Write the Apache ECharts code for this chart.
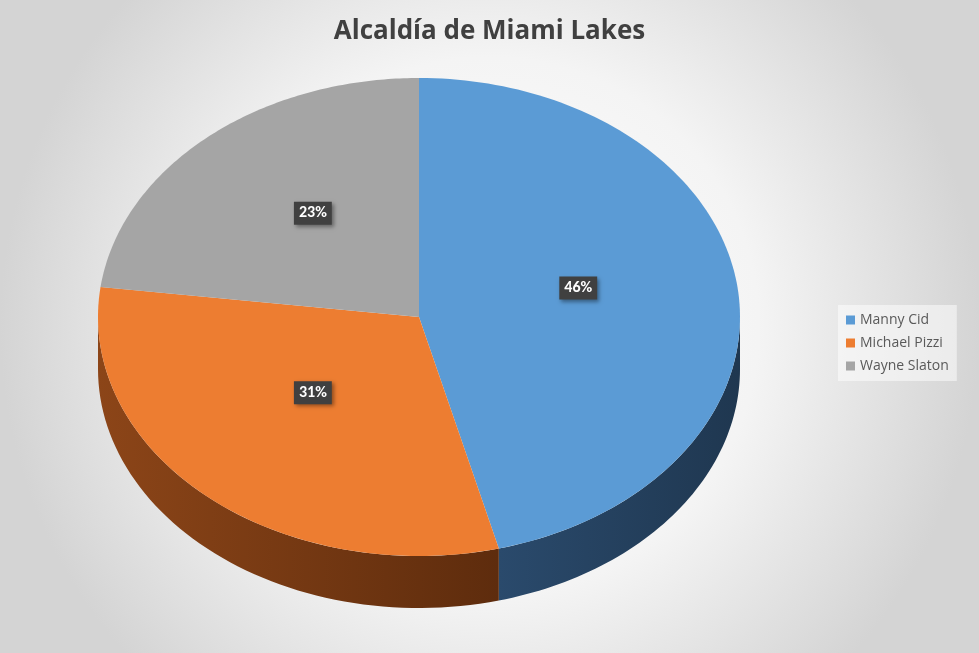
<!DOCTYPE html>
<html><head><meta charset="utf-8">
<script src="https://cdn.jsdelivr.net/npm/echarts@6/dist/echarts.min.js"></script>
<style>html,body{margin:0;padding:0}#c{width:979px;height:653px}</style>
</head><body><div id="c"></div>
<script>
const categories = ['Manny Cid', 'Michael Pizzi', 'Wayne Slaton'];
const values = [46, 31, 23];
const labels = ['46%', '31%', '23%'];
const topColors = ['#5b9bd5', '#ed7d31', '#a5a5a5'];
const sideColors = [['#2a4a6c', '#1f3750'], ['#8c4518', '#5e2c0d'], ['#6d6d6d', '#555555']];

const total = values.reduce((a, b) => a + b, 0);
const cum = [];
values.reduce((acc, v, i) => { cum[i] = acc; return acc + v; }, 0);

const CX = 419, CY = 317, RX = 321, RY = 239, DEPTH = 52;
function pt(th, dy) { return [CX + RX * Math.sin(th), CY - RY * Math.cos(th) + (dy || 0)]; }

function makeRender(i) {
  return function (params, api) {
    const a0 = cum[i] / total * 2 * Math.PI;
    const a1 = (cum[i] + values[i]) / total * 2 * Math.PI;
    const children = [];
    // side face (front half: angles PI/2 .. 3PI/2)
    const s0 = Math.max(a0, Math.PI / 2), s1 = Math.min(a1, 3 * Math.PI / 2);
    if (s1 > s0) {
      const top = [], bot = [];
      for (let k = 0; k <= 60; k++) {
        const t = s0 + (s1 - s0) * k / 60;
        top.push(pt(t)); bot.push(pt(t, DEPTH));
      }
      children.push({ type: 'polygon', shape: { points: top.concat(bot.reverse()) },
        style: { fill: new echarts.graphic.LinearGradient(0, 0, 1, 0, [
          { offset: 0, color: sideColors[i][0] }, { offset: 1, color: sideColors[i][1] }]) } });
    }
    const pts = [[CX, CY]];
    for (let k = 0; k <= 120; k++) pts.push(pt(a0 + (a1 - a0) * k / 120));
    children.push({ type: 'polygon', shape: { points: pts }, style: { fill: topColors[i] } });
    const mid = (a0 + a1) / 2;
    const lp = [CX + RX * 0.5 * Math.sin(mid), CY - RY * 0.5 * Math.cos(mid) - 14];
    children.push({ type: 'text', x: lp[0], y: lp[1], style: {
      text: labels[i], fill: '#fff', font: 'bold 16px Calibri, "Open Sans", sans-serif',
      align: 'center', verticalAlign: 'middle', backgroundColor: '#404040',
      padding: [4, 5, 3, 5], shadowBlur: 4, shadowColor: 'rgba(0,0,0,0.4)', shadowOffsetX: 2, shadowOffsetY: 2 } });
    return { type: 'group', children: children };
  };
}

const chart = echarts.init(document.getElementById('c'));
chart.setOption({
  animation: false,
  backgroundColor: new echarts.graphic.RadialGradient(0.5, 0.5, 0.75, [
    { offset: 0, color: '#ffffff' }, { offset: 0.55, color: '#f4f4f4' }, { offset: 1, color: '#d4d4d4' }]),
  title: { text: 'Alcaldía de Miami Lakes', left: 'center', top: 14,
    textStyle: { fontSize: 26, fontWeight: 'bold', color: '#404040', fontFamily: '"Open Sans", sans-serif' } },
  legend: { orient: 'vertical', left: 838, top: 305, itemGap: 9, itemWidth: 9, itemHeight: 9,
    backgroundColor: 'rgba(255,255,255,0.5)', padding: [8, 8, 8, 8],
    icon: 'rect', data: categories,
    textStyle: { fontSize: 14, color: '#595959', fontFamily: '"Open Sans", sans-serif' } },
  series: categories.map((n, i) => ({
    type: 'custom', name: n, coordinateSystem: 'none', z: 2,
    itemStyle: { color: topColors[i] },
    data: [values[i]], renderItem: makeRender(i)
  }))
});
</script></body></html>
